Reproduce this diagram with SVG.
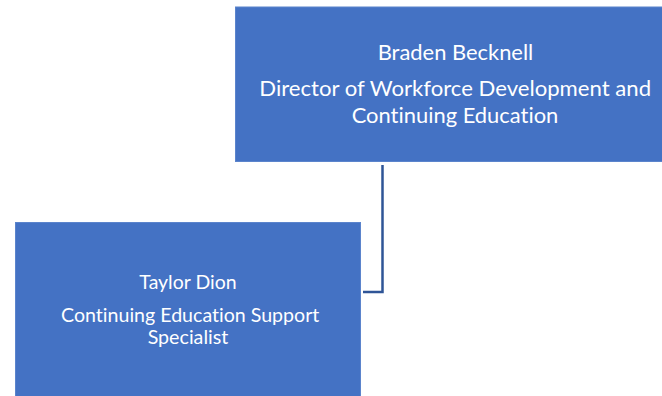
<svg xmlns="http://www.w3.org/2000/svg" width="662" height="396" viewBox="0 0 662 396">
<style>
.box{fill:#4472C4;stroke:#5b84cc;stroke-width:1}
.t{fill:#ffffff;font-family:Lato,"Liberation Sans",sans-serif;text-anchor:middle;font-variant-ligatures:none}
.top{font-size:21.5px}
.bot{font-size:19px}
.conn{fill:none;stroke:#2F5597;stroke-width:2.5}
</style>
<rect width="662" height="396" fill="#ffffff"/>
<g id="connectors">
<path class="conn" d="M382.5 165 V292 H363"/>
</g>
<g id="node-braden">
<rect class="box" x="235.5" y="7" width="440" height="154.5"/>
<text class="t top" x="455.5" y="60" textLength="155.6" lengthAdjust="spacingAndGlyphs">Braden Becknell</text>
<text class="t top" x="455.2" y="96" textLength="391.7" lengthAdjust="spacingAndGlyphs">Director of Workforce Development and</text>
<text class="t top" x="455" y="122.7" textLength="206.7" lengthAdjust="spacingAndGlyphs">Continuing Education</text>
</g>
<g id="node-taylor">
<rect class="box" x="15.5" y="222.5" width="345" height="180"/>
<text class="t bot" x="188" y="289" textLength="97.3" lengthAdjust="spacingAndGlyphs">Taylor Dion</text>
<text class="t bot" x="190.2" y="322.3" textLength="258.3" lengthAdjust="spacingAndGlyphs">Continuing Education Support</text>
<text class="t bot" x="188" y="344" textLength="80.7" lengthAdjust="spacingAndGlyphs">Specialist</text>
</g>
</svg>
